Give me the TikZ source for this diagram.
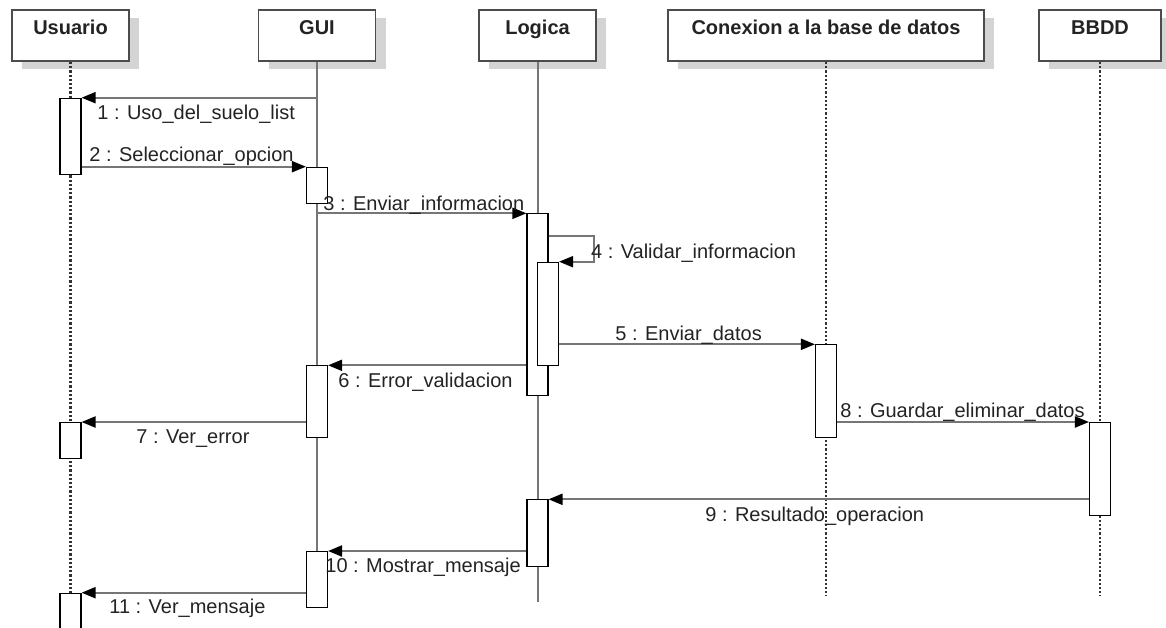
\documentclass[tikz,border=0pt]{standalone}
\usepackage{fontspec}
\setmainfont{Liberation Sans}
\usepackage{tikz}
\usepackage{xcolor}
\usetikzlibrary{positioning, arrows.meta, shadows}

\definecolor{linegray}{RGB}{118,118,118}
\definecolor{shadowgray}{RGB}{212,212,212}
\definecolor{textgray}{RGB}{35,35,35}

\begin{document}
\begin{tikzpicture}[x=0.5pt, y=-0.5pt, font=\fontsize{10}{12}\selectfont,
    head/.style = {draw=black!70, line width=0.8pt, fill=white, anchor=north, inner xsep=0pt, inner ysep=0pt,
        text height=12.35pt, text depth=13.15pt, font=\fontsize{10}{12}\selectfont\bfseries, text=textgray,
        drop shadow={shadow xshift=5pt, shadow yshift=-4pt, fill=shadowgray, opacity=1}},
    act/.style = {draw=black, line width=0.55pt, fill=white, anchor=north, minimum width=10.5pt, inner sep=0pt},
    life/.style = {draw=linegray, line width=1pt},
    dots/.style = {draw=black!80, line width=1.2pt, dash pattern=on 1.1pt off 1pt},
    msg/.style = {draw=linegray, line width=1pt, -{Triangle[length=7pt, width=5.5pt, black]}},
    lbl/.style = {anchor=base west, inner sep=0pt, text=textgray}]
    \useasboundingbox (0,0) rectangle (1166,627);

    % cabeceras
    \node[head, minimum width=58.75pt] (usuario) at (70.5,9.3) {Usuario};
    \node[head, minimum width=58.5pt] (gui) at (317,9.3) {GUI};
    \node[head, minimum width=58.75pt] (logica) at (537.5,9.3) {Logica};
    \node[head, minimum width=158.25pt] (conexion) at (826,9.3) {Conexion a la base de datos};
    \node[head, minimum width=61pt] (bbdd) at (1100,9.3) {BBDD};

    % lineas de vida
    \draw[dots] (usuario.south) -- (usuario.south |- 0,627);
    \draw[life] (gui.south) -- (gui.south |- 0,551);
    \draw[life] (logica.south) -- (logica.south |- 0,602);
    \draw[dots] (conexion.south) -- (conexion.south |- 0,596);
    \draw[dots] (bbdd.south) -- (bbdd.south |- 0,596);

    % activaciones
    \node[act, minimum height=38.15pt] (u1) at (70.5,97.7) {};
    \node[act, minimum height=18.3pt] (g1) at (317,166.7) {};
    \node[act, minimum height=90.7pt] (l1) at (537.5,213.3) {};
    \node[act, minimum height=51.5pt] (l2) at (548,261.7) {};
    \node[act, minimum height=46.5pt] (c1) at (826,344.3) {};
    \node[act, minimum height=35.85pt] (g2) at (317,365.3) {};
    \node[act, minimum height=17.85pt] (u2) at (70.5,422) {};
    \node[act, minimum height=46.35pt] (b1) at (1100,422) {};
    \node[act, minimum height=33.35pt] (l3) at (537.5,499.3) {};
    \node[act, minimum height=28pt] (g3) at (317,551) {};
    \node[act, minimum height=24pt] (u3) at (70.5,592.7) {};

    % mensajes
    \coordinate (bucle) at (594.3,236);
    \draw[msg] (gui.south |- u1.north) -- (u1.north east);
    \draw[msg] (u1.east |- g1.north) -- (g1.north west);
    \draw[msg] (gui.south |- l1.north) -- (l1.north west);
    \draw[msg] (l1.east |- bucle) -- (bucle) -- (bucle |- l2.north) -- (l2.north east);
    \draw[msg] (l2.east |- c1.north) -- (c1.north west);
    \draw[msg] (l1.west |- g2.north) -- (g2.north east);
    \draw[msg] (g2.west |- u2.north) -- (u2.north east);
    \draw[msg] (c1.east |- b1.north) -- (b1.north west);
    \draw[msg] (b1.west |- l3.north) -- (l3.north east);
    \draw[msg] (l3.west |- g3.north) -- (g3.north east);
    \draw[msg] (g3.west |- u3.north) -- (u3.north east);

    % etiquetas
    \node[lbl] (t1) at (97,119) {1 : Uso\_del\_suelo\_list};
    \node[lbl] (t2) at (89,161.7) {2 : Seleccionar\_opcion};
    \node[lbl] (t3) at (323,210) {3 : Enviar\_informacion};
    \node[lbl] (t4) at (590.7,258.3) {4 : Validar\_informacion};
    \node[lbl] (t5) at (615,340.7) {5 : Enviar\_datos};
    \node[lbl] (t6) at (338,387) {6 : Error\_validacion};
    \node[lbl] (t7) at (136,443.7) {7 : Ver\_error};
    \node[lbl] (t8) at (840,417.7) {8 : Guardar\_eliminar\_datos};
    \node[lbl] (t9) at (705,521) {9 : Resultado\_operacion};
    \node[lbl] (t10) at (325,572) {10 : Mostrar\_mensaje};
    \node[lbl] (t11) at (109,613.7) {11 : Ver\_mensaje};
\end{tikzpicture}
\end{document}
